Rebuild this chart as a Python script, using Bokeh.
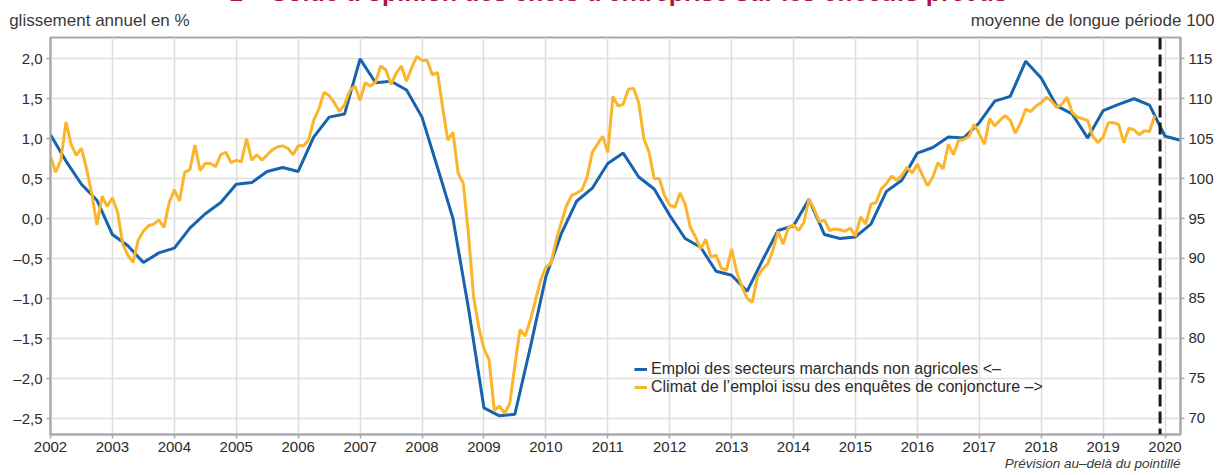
from bokeh.plotting import figure
from bokeh.models import (Range1d, LinearAxis, FixedTicker, CustomJSTickFormatter,
                          Span, Legend, LegendItem)
from bokeh.embed import file_html
from bokeh.resources import INLINE

# ---------------- data ----------------
title_text = "1 – Solde d'opinion des chefs d'entreprise sur les effectifs prévus"
left_header = "glissement annuel en %"
right_header = "moyenne de longue période 100"
footnote = "Prévision au–delà du pointillé"
label_emploi = "Emploi des secteurs marchands non agricoles <–"
label_climat = "Climat de l’emploi issu des enquêtes de conjoncture –>"

year_ticks = list(range(2002, 2021))
left_ticks = [-2.5, -2.0, -1.5, -1.0, -0.5, 0.0, 0.5, 1.0, 1.5, 2.0]
right_ticks = [70, 75, 80, 85, 90, 95, 100, 105, 110, 115]
start_year = 2002
forecast_start = 2019.92

# quarterly, year-on-year % (left axis), 2002Q1 .. 2020Q2
emploi = [
    1.05, 0.72, 0.43, 0.23,
    -0.20, -0.34, -0.55, -0.43,
    -0.37, -0.12, 0.06, 0.20,
    0.43, 0.45, 0.59, 0.64,
    0.59, 1.02, 1.27, 1.31,
    2.00, 1.70, 1.72, 1.61,
    1.27, 0.64, 0.00, -1.12,
    -2.37, -2.47, -2.45, -1.61,
    -0.73, -0.19, 0.22, 0.38,
    0.69, 0.82, 0.52, 0.37,
    0.04, -0.25, -0.36, -0.66,
    -0.71, -0.91, -0.52, -0.15,
    -0.09, 0.24, -0.20, -0.25,
    -0.23, -0.07, 0.34, 0.48,
    0.82, 0.89, 1.02, 1.01,
    1.20, 1.47, 1.53, 1.97,
    1.76, 1.41, 1.31, 1.01,
    1.35, 1.43, 1.50, 1.42,
    1.03, 0.98,
]

# monthly employment climate (right axis), 2002-01 .. 2019-11
climat = [
    # 2002
    102.8, 100.8, 102.3, 107.1, 104.3, 102.9, 103.8, 101.2, 98.1, 94.2, 97.8, 96.5,
    # 2003
    97.6, 95.8, 91.8, 90.4, 89.5, 92.3, 93.4, 94.1, 94.3, 94.8, 93.9, 97.0,
    # 2004
    98.6, 97.2, 100.8, 101.1, 104.2, 101.0, 101.9, 101.9, 101.5, 103.0, 103.3, 102.0,
    # 2005
    102.3, 102.1, 105.0, 102.3, 103.0, 102.3, 103.0, 103.6, 104.0, 104.1, 103.8, 103.0,
    # 2006
    104.1, 104.1, 104.8, 107.3, 108.7, 110.8, 110.4, 109.5, 108.4, 109.3, 111.0, 111.6,
    # 2007
    109.8, 112.0, 111.6, 112.1, 114.1, 113.6, 111.8, 113.2, 114.1, 112.2, 113.9, 115.3,
    # 2008
    114.8, 114.8, 113.0, 113.3, 108.9, 104.8, 105.8, 100.7, 99.4, 93.1, 85.2, 81.4,
    # 2009
    78.7, 77.3, 71.0, 71.5, 70.6, 71.8, 76.6, 81.1, 80.3, 82.3, 84.8, 87.3,
    # 2010
    88.9, 89.4, 92.3, 94.5, 96.6, 97.9, 98.2, 98.6, 100.2, 103.3, 104.3, 105.3,
    # 2011
    103.3, 110.3, 109.1, 109.3, 111.2, 111.3, 109.5, 105.0, 103.3, 100.0, 100.0, 97.9,
    # 2012
    96.7, 96.4, 98.2, 96.8, 93.9, 92.7, 91.2, 92.4, 90.2, 90.4, 88.8, 88.5,
    # 2013
    91.2, 88.3, 86.5, 85.0, 84.5, 87.7, 88.7, 89.3, 91.0, 93.4, 91.8, 93.9,
    # 2014
    94.2, 93.5, 94.5, 97.4, 96.2, 94.6, 94.8, 93.5, 93.7, 93.6, 93.4, 93.8,
    # 2015
    92.8, 95.2, 94.3, 96.8, 97.0, 98.7, 99.4, 100.3, 99.8, 100.4, 101.4, 100.7,
    # 2016
    101.8, 100.4, 99.1, 100.2, 102.0, 101.2, 104.3, 103.0, 104.8, 104.9, 105.3, 106.8,
    # 2017
    105.6, 104.3, 107.5, 106.6, 107.3, 107.9, 107.3, 105.7, 107.0, 108.7, 108.4, 109.1,
    # 2018
    109.5, 110.2, 109.7, 108.9, 109.3, 110.2, 108.3, 107.7, 107.5, 107.3, 105.3, 104.5,
    # 2019
    105.2, 107.0, 107.0, 106.8, 104.5, 106.3, 106.1, 105.5, 106.0, 105.9, 107.9,
]

x_emploi = [start_year + i / 4 for i in range(len(emploi))]
x_climat = [start_year + i / 12 for i in range(len(climat))]

# ---------------- styles ----------------
BLUE = "#1763ad"
ORANGE = "#fbb52b"
GRID = "#dedede"
AXIS = "#a9a9ad"
TXT = "#2b2b2b"
FONT = "Liberation Sans"

p = figure(width=1222, height=504, output_backend="svg", toolbar_location=None,
           x_range=Range1d(2002, 2020.25), y_range=Range1d(-2.704, 2.267),
           min_border_left=50, min_border_right=42, min_border_top=66, min_border_bottom=41)
p.styles = {"margin-top": "-29px"}
p.extra_y_ranges = {"right": Range1d(67.96, 117.67)}

p.background_fill_color = "white"
p.border_fill_color = "white"
p.outline_line_color = AXIS
p.outline_line_width = 2

# grid
p.xgrid.ticker = FixedTicker(ticks=year_ticks)
p.ygrid.ticker = FixedTicker(ticks=left_ticks)
for g in (p.xgrid, p.ygrid):
    g.grid_line_color = GRID
    g.grid_line_width = 1.5

# axes
xa = p.xaxis[0]
xa.ticker = FixedTicker(ticks=year_ticks)
xa.formatter = CustomJSTickFormatter(code="return tick.toFixed(0);")
ya = p.yaxis[0]
ya.ticker = FixedTicker(ticks=left_ticks)
ya.formatter = CustomJSTickFormatter(
    code="return tick.toFixed(1).replace('.', ',').replace('-', '\u2013');")
ra = LinearAxis(y_range_name="right", ticker=FixedTicker(ticks=right_ticks))
p.add_layout(ra, "right")

for ax in (xa, ya, ra):
    ax.axis_line_color = AXIS
    ax.axis_line_width = 2
    ax.major_tick_line_color = AXIS
    ax.major_tick_line_width = 1.5
    ax.major_tick_out = 4
    ax.major_tick_in = 0
    ax.minor_tick_line_color = None
    ax.major_label_text_font = FONT
    ax.major_label_text_font_size = "15px"
    ax.major_label_text_color = TXT
    ax.major_label_standoff = 4
xa.major_label_standoff = 3


def text_axis(ticks, code, args, size, style, color, standoff):
    ax = LinearAxis(ticker=FixedTicker(ticks=ticks),
                    formatter=CustomJSTickFormatter(args=args, code=code))
    ax.axis_line_color = None
    ax.major_tick_line_color = None
    ax.minor_tick_line_color = None
    ax.major_tick_out = 0
    ax.major_tick_in = 0
    ax.major_label_text_font = FONT
    ax.major_label_text_font_size = size
    ax.major_label_text_font_style = style
    ax.major_label_text_color = color
    ax.major_label_standoff = standoff
    return ax


# header row (left & right), then the (cut) chart title above it
header_axis = text_axis([2002.79, 2018.83], "return tick < 2010 ? a : b;",
                        dict(a=left_header, b=right_header), "17px", "normal", "#3a3a3a", 8)
p.add_layout(header_axis, "above")
title_axis = text_axis([2011.17], "return t;", dict(t=title_text),
                       "25px", "bold", "#ab1447", 2)
p.add_layout(title_axis, "above")

# footnote under the x axis
foot_axis = text_axis([2018.83], "return t;", dict(t=footnote),
                      "13.5px", "italic", "#3a3a3a", 1)
p.add_layout(foot_axis, "below")

# lines
r_emploi = p.line(x_emploi, emploi, line_color=BLUE, line_width=3)
r_climat = p.line(x_climat, climat, line_color=ORANGE, line_width=3, y_range_name="right")

p.add_layout(Span(location=forecast_start, dimension="height", line_color="#1a1a1a",
                  line_width=3, line_dash="12 5"))

legend = Legend(items=[LegendItem(label=label_emploi, renderers=[r_emploi]),
                       LegendItem(label=label_climat, renderers=[r_climat])],
                location=(584, 38), orientation="vertical",
                glyph_width=13, glyph_height=16, label_height=16, label_standoff=4,
                spacing=0, padding=0, margin=0,
                border_line_alpha=0, background_fill_alpha=0,
                label_text_font=FONT, label_text_font_size="16px", label_text_color=TXT)
p.add_layout(legend, "center")

open("out.html", "w").write(file_html(p, INLINE))
